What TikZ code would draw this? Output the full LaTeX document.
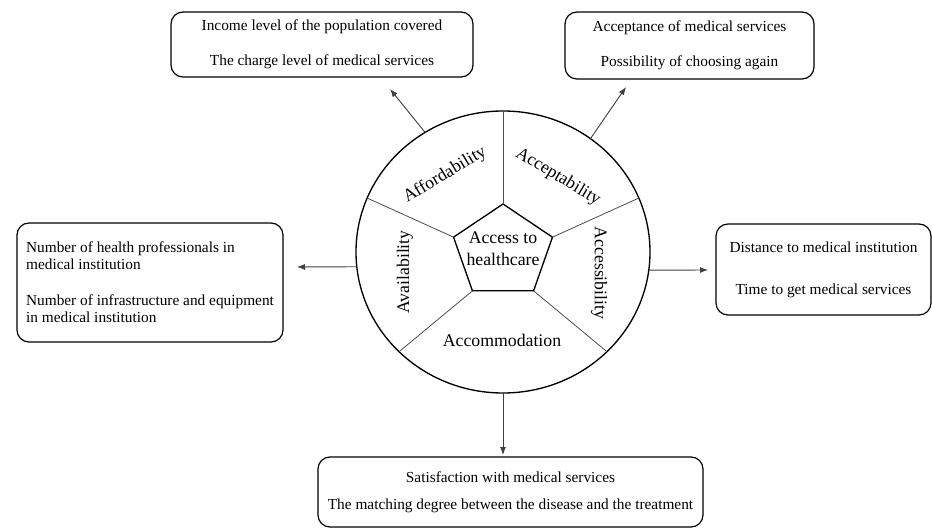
\documentclass[tikz,border=0pt]{standalone}
\usepackage{fontspec}
\setmainfont{LiberationSerif-Regular.ttf}[BoldFont=LiberationSerif-Bold.ttf]
\usetikzlibrary{arrows.meta}

\begin{document}
\begin{tikzpicture}[x=0.75pt,y=0.75pt,
        every node/.style={inner sep=0pt},
        infobox/.style={draw,line width=0.9pt,rounded corners=9pt,
            font=\fontsize{11.5}{13.5}\selectfont},
        part/.style={font=\fontsize{13.3}{16.5}\selectfont},
        divide/.style={draw=black!70,line width=0.6pt},
        arr/.style={draw=black!75,line width=0.7pt,-{Latex[length=6pt,width=4.5pt]}}]
    \useasboundingbox (0,0) rectangle (932,529);
    \begin{scope}[shift={(503,277)}]
        \draw[line width=1pt] (0,0) ellipse [x radius=147,y radius=141];
        \draw[line width=1pt] (90:52 and 48) -- (162:52 and 48) -- (234:52 and 48)
            -- (306:52 and 48) -- (18:52 and 48) -- cycle;
        \foreach \a/\b in {90/90,162/157.5,234/225,306/315,18/22.5}
            \draw[divide] (\a:52 and 48) -- (\b:147 and 141);
        \node[part,align=center] (core) at (0,3) {Access to\\healthcare};
        \node[part,rotate=31] (afford) at (-58,77) {Affordability};
        \node[part,rotate=-31] (accept) at (55,75) {Acceptability};
        \node[part,rotate=90] (avail) at (-98,-20) {Availability};
        \node[part,rotate=-90] (access) at (96,-21) {Accessibility};
        \node[part] (accom) at (-1,-88) {Accommodation};
        \coordinate (rim-afford) at (122:147 and 141);
        \coordinate (rim-accept) at (53.5:147 and 141);
        \coordinate (rim-avail) at (186:147 and 141);
        \coordinate (rim-access) at (352.6:147 and 141);
        \coordinate (rim-accom) at (270:147 and 141);
    \end{scope}

    \node[infobox,minimum width=226.5pt,minimum height=48.75pt,align=center] (afford-box) at (322,484.5)
        {Income level of the population covered\\[12.5pt]The charge level of medical services};
    \node[infobox,minimum width=186.75pt,minimum height=50.25pt,align=center] (accept-box) at (689.5,483.5)
        {Acceptance of medical services\\[12.5pt]Possibility of choosing again};
    \node[infobox,minimum width=199.5pt,minimum height=89.25pt,align=left,
        font=\fontsize{11.5}{12.8}\selectfont] (avail-box) at (150,246.5)
        {Number of health professionals in\\medical institution\\[14pt]Number of infrastructure and equipment\\in medical institution};
    \node[infobox,minimum width=161.25pt,minimum height=68.25pt,align=center] (access-box) at (823.5,259.5)
        {Distance to medical institution\\[18pt]Time to get medical services};
    \node[infobox,minimum width=288.75pt,minimum height=52.5pt,align=center] (accom-box) at (510.5,37)
        {Satisfaction with medical services\\[7pt]The matching degree between the disease and the treatment};

    \coordinate (tip-afford) at (390,440);
    \coordinate (tip-accept) at (626,442);
    \coordinate (tip-avail) at (297,262);
    \coordinate (tip-access) at (708,259);
    \coordinate (tip-accom) at (503,74);

    \draw[arr] (rim-afford) -- (tip-afford);
    \draw[arr] (rim-accept) -- (tip-accept);
    \draw[arr] (rim-avail) -- (tip-avail);
    \draw[arr] (rim-access) -- (tip-access);
    \draw[arr] (rim-accom) -- (tip-accom);
\end{tikzpicture}
\end{document}
